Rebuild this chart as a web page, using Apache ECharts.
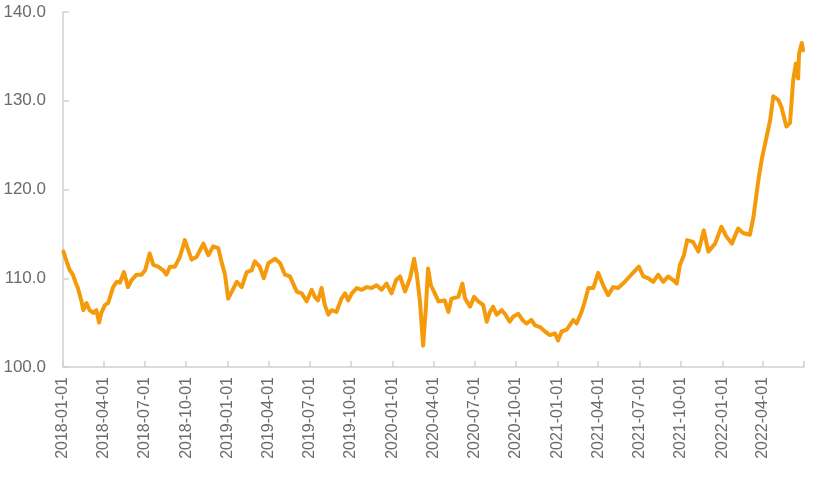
<!DOCTYPE html>
<html>
<head>
<meta charset="utf-8">
<script src="https://cdn.jsdelivr.net/npm/echarts@6/dist/echarts.min.js"></script>
<style>
  html, body { margin: 0; padding: 0; background: #fff; }
  #chart { width: 830px; height: 477px; }
</style>
</head>
<body>
<div id="chart"></div>
<script>
// ---- data ----
const dates = [
  '2018-01-02','2018-01-09','2018-01-16','2018-01-23','2018-01-29','2018-02-03','2018-02-11','2018-02-15','2018-02-22','2018-03-01',
  '2018-03-09','2018-03-16','2018-03-22','2018-03-27','2018-04-04','2018-04-11','2018-04-22','2018-04-30','2018-05-07','2018-05-16',
  '2018-05-25','2018-06-02','2018-06-13','2018-06-24','2018-07-02','2018-07-09','2018-07-12','2018-07-20','2018-07-31','2018-08-11',
  '2018-08-18','2018-08-26','2018-09-06','2018-09-17','2018-09-28','2018-10-02','2018-10-13','2018-10-24','2018-11-08','2018-11-19',
  '2018-11-30','2018-12-11','2018-12-18','2018-12-26','2019-01-02','2019-01-10','2019-01-21','2019-02-01','2019-02-12','2019-02-23',
  '2019-03-02','2019-03-13','2019-03-22','2019-04-01','2019-04-16','2019-04-27','2019-05-08','2019-05-19','2019-05-26','2019-06-03',
  '2019-06-14','2019-06-25','2019-07-06','2019-07-13','2019-07-20','2019-07-28','2019-08-04','2019-08-12','2019-08-19','2019-08-30',
  '2019-09-10','2019-09-18','2019-09-25','2019-10-03','2019-10-14','2019-10-25','2019-11-05','2019-11-16','2019-11-27','2019-12-08',
  '2019-12-19','2019-12-30','2020-01-09','2020-01-18','2020-01-29','2020-02-09','2020-02-18','2020-02-24','2020-03-02','2020-03-09',
  '2020-03-15','2020-03-20','2020-03-26','2020-04-02','2020-04-12','2020-04-26','2020-05-04','2020-05-11','2020-05-26','2020-06-04',
  '2020-06-10','2020-06-21','2020-06-30','2020-07-09','2020-07-20','2020-07-28','2020-08-04','2020-08-11','2020-08-19','2020-08-30',
  '2020-09-06','2020-09-17','2020-09-25','2020-10-06','2020-10-15','2020-10-24','2020-11-04','2020-11-12','2020-11-23','2020-12-04',
  '2020-12-15','2020-12-26','2021-01-02','2021-01-10','2021-01-21','2021-02-05','2021-02-12','2021-02-23','2021-03-03','2021-03-10',
  '2021-03-21','2021-04-01','2021-04-12','2021-04-23','2021-05-04','2021-05-15','2021-05-26','2021-06-06','2021-06-17','2021-06-30',
  '2021-07-10','2021-07-21','2021-08-01','2021-08-12','2021-08-23','2021-09-03','2021-09-14','2021-09-22','2021-09-29','2021-10-08',
  '2021-10-15','2021-10-28','2021-11-09','2021-11-21','2021-12-01','2021-12-16','2021-12-30','2022-01-10','2022-01-22','2022-02-05',
  '2022-02-16','2022-03-03','2022-03-11','2022-03-22','2022-03-29','2022-04-06','2022-04-17','2022-04-24','2022-05-05','2022-05-12',
  '2022-05-23','2022-05-31','2022-06-07','2022-06-13','2022-06-18','2022-06-20','2022-06-26','2022-06-29'
];
const values = [
  113.0,111.9,110.9,110.4,109.5,108.9,107.4,106.4,107.2,106.4,
  106.1,106.4,105.0,106.1,107.0,107.2,109.0,109.6,109.5,110.7,
  109.0,109.8,110.4,110.4,110.9,112.2,112.8,111.5,111.3,110.9,
  110.4,111.3,111.3,112.4,114.3,114.5,112.1,112.4,113.9,112.6,
  113.6,113.4,111.9,110.4,107.7,108.5,109.6,109.0,110.7,110.9,
  111.9,111.3,110.0,111.7,112.2,111.7,110.4,110.2,109.4,108.5,
  108.3,107.4,108.7,107.9,107.5,108.9,107.0,105.9,106.4,106.2,
  107.7,108.3,107.5,108.3,108.9,108.7,109.0,108.9,109.2,108.7,
  109.4,108.3,109.8,110.2,108.5,110.0,112.2,110.4,107.4,102.4,
  106.6,111.1,109.2,108.5,107.4,107.5,106.2,107.7,107.9,109.4,
  107.7,106.8,107.9,107.4,107.0,105.1,106.2,106.8,105.9,106.4,
  106.0,105.1,105.7,106.0,105.3,104.9,105.3,104.7,104.5,104.0,
  103.6,103.8,103.0,104.0,104.2,105.3,104.9,106.2,107.5,108.9,
  108.9,110.6,109.2,108.1,109.0,108.9,109.4,110.0,110.6,111.3,
  110.2,110.0,109.6,110.4,109.6,110.2,109.8,109.4,111.5,112.6,
  114.3,114.1,113.0,115.4,113.0,113.9,115.8,114.7,113.9,115.6,
  115.1,114.9,116.9,121.1,123.3,125.2,127.8,130.5,130.1,129.3,
  127.1,127.5,132.3,134.2,132.5,135.3,136.5,135.7
];
const xTickDates = [
  '2018-01-01','2018-04-01','2018-07-01','2018-10-01','2019-01-01','2019-04-01','2019-07-01','2019-10-01',
  '2020-01-01','2020-04-01','2020-07-01','2020-10-01','2021-01-01','2021-04-01','2021-07-01','2021-10-01',
  '2022-01-01','2022-04-01','2022-07-01'
];
const xLabelDates = xTickDates.slice(0, xTickDates.length - 1);
const yTicks = [100, 110, 120, 130, 140];

// ---- helpers ----
function ts(s) {
  const p = s.split('-').map(Number);
  return new Date(p[0], p[1] - 1, p[2]).getTime();
}
function fmt(v) {
  const d = new Date(v);
  const pad = n => (n < 10 ? '0' : '') + n;
  return d.getFullYear() + '-' + pad(d.getMonth() + 1) + '-' + pad(d.getDate());
}

const chart = echarts.init(document.getElementById('chart'), null, { renderer: 'canvas' });
const axisColor = '#D0D0D0';
const textColor = '#6b6b6b';
const font = 'Liberation Sans';

chart.setOption({
  animation: false,
  backgroundColor: '#ffffff',
  grid: { left: 63, right: 26, top: 12, bottom: 110, containLabel: false },
  xAxis: {
    type: 'value',
    scale: true,
    min: ts(xTickDates[0]),
    max: ts(xTickDates[xTickDates.length - 1]),
    axisLine: { show: true, lineStyle: { color: axisColor, width: 1.5 } },
    axisTick: {
      show: true, inside: true, length: 6,
      customValues: xTickDates.map(ts),
      lineStyle: { color: axisColor, width: 1.5 }
    },
    axisLabel: {
      show: true,
      customValues: xLabelDates.map(ts),
      rotate: 90,
      margin: 10,
      color: textColor,
      fontFamily: font,
      fontSize: 16,
      formatter: v => fmt(v)
    },
    splitLine: { show: false }
  },
  yAxis: {
    type: 'value',
    min: yTicks[0],
    max: yTicks[yTicks.length - 1],
    interval: 10,
    axisLine: { show: true, lineStyle: { color: axisColor, width: 1.5 } },
    axisTick: { show: true, inside: true, length: 6, lineStyle: { color: axisColor, width: 1.5 } },
    axisLabel: {
      color: textColor,
      fontFamily: font,
      fontSize: 17,
      margin: 17,
      formatter: v => v.toFixed(1)
    },
    splitLine: { show: false }
  },
  series: [{
    type: 'line',
    data: dates.map((d, i) => [ts(d), values[i]]),
    showSymbol: false,
    symbol: 'none',
    lineStyle: { color: '#F59A0A', width: 4, join: 'round', cap: 'round' },
    itemStyle: { color: '#F59A0A' }
  }]
});
</script>
</body>
</html>
